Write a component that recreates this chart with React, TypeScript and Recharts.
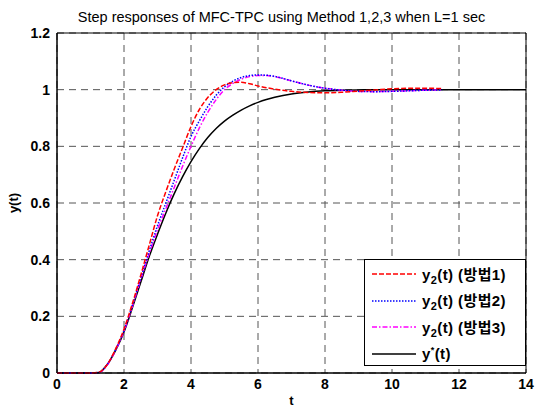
import {
  Line,
  LineChart,
  CartesianGrid,
  ReferenceArea,
  XAxis,
  YAxis,
} from "recharts";

// step response samples
const tValues = [
  0, 0.5, 1, 1.25, 1.5, 1.75, 2, 2.25, 2.5, 2.75, 3, 3.25, 3.5, 3.75, 4, 4.25, 4.5, 4.75, 5, 5.25,
  5.5, 5.75, 6, 6.25, 6.5, 7, 7.5, 8, 8.5, 9, 9.5, 10, 10.5, 11, 11.5, 12, 13, 14,
];
const refValues = [
  0, 0, 0, 0.002, 0.03, 0.08, 0.145, 0.23, 0.32, 0.41, 0.49, 0.565, 0.633, 0.693, 0.746, 0.792, 0.831, 0.863, 0.889, 0.91,
  0.928, 0.943, 0.955, 0.965, 0.973, 0.985, 0.992, 0.996, 0.998, 0.999, 1, 1, 1, 1, 1, 1, 1, 1,
];
const method1 = [
  0, 0, 0, 0.003, 0.03, 0.085, 0.155, 0.245, 0.345, 0.45, 0.555, 0.64, 0.72, 0.795, 0.87, 0.93, 0.972, 1.0, 1.017, 1.025,
  1.026, 1.021, 1.013, 1.007, 1.002, 0.994, 0.99, 0.989, 0.991, 0.995, 0.999, 1.003, 1.005, 1.005, 1.004, null, null, null,
];
const method2 = [
  0, 0, 0, 0.002, 0.03, 0.083, 0.15, 0.24, 0.335, 0.43, 0.52, 0.6, 0.68, 0.76, 0.835, 0.89, 0.94, 0.98, 1.01, 1.03,
  1.043, 1.05, 1.052, 1.051, 1.047, 1.031, 1.016, 1.005, 0.998, 0.994, 0.993, 0.994, 0.996, 0.998, 0.999, null, null, null,
];
const method3 = [
  0, 0, 0, 0.002, 0.028, 0.08, 0.148, 0.235, 0.33, 0.42, 0.505, 0.58, 0.655, 0.73, 0.8, 0.865, 0.92, 0.965, 1.0, 1.022,
  1.037, 1.046, 1.05, 1.05, 1.046, 1.031, 1.016, 1.005, 0.998, 0.994, 0.993, 0.994, 0.996, 0.998, 0.999, null, null, null,
];

const xTicks = [0, 2, 4, 6, 8, 10, 12, 14];
const yTicks = [0, 0.2, 0.4, 0.6, 0.8, 1, 1.2];

const data = tValues.map((t, i) => ({
  t,
  m1: method1[i],
  m2: method2[i],
  m3: method3[i],
  ref: refValues[i],
}));

const FONT = '"Liberation Sans", Arial, "Noto Sans CJK KR", sans-serif';

const legendRows = [
  { label: "방법1", color: "#ff0000", dash: "5 2", star: false },
  { label: "방법2", color: "#0000ff", dash: "1.5 1.5", star: false },
  { label: "방법3", color: "#ff00ff", dash: "5 2 1.5 2", star: false },
  { label: "", color: "#000000", dash: undefined, star: true },
];

function LegendBox() {
  return (
    <div
      style={{
        position: "absolute",
        left: 364,
        top: 259,
        width: 162,
        height: 107,
        border: "1px solid #000",
        background: "#fff",
        fontFamily: FONT,
        fontWeight: "bold",
        fontSize: 15,
        letterSpacing: 0.4,
        boxSizing: "border-box",
        paddingTop: 1,
      }}
    >
      {legendRows.map((r, i) => (
        <div key={i} style={{ display: "flex", alignItems: "center", height: 26.5, paddingLeft: 7, whiteSpace: "nowrap" }}>
          <svg width={44} height={10} style={{ marginRight: 6, flexShrink: 0 }}>
            <line x1={0} y1={5} x2={44} y2={5} stroke={r.color} strokeWidth={1.5} strokeDasharray={r.dash} />
          </svg>
          {r.star ? (
            <span>
              y<sup style={{ fontSize: 9 }}>*</sup>(t)
            </span>
          ) : (
            <span>
              y<sub style={{ fontSize: 11 }}>2</sub>(t) ({r.label})
            </span>
          )}
        </div>
      ))}
    </div>
  );
}

export default function App() {
  return (
    <div style={{ position: "absolute", left: 0, top: 0, width: 538, height: 407, background: "#fff" }}>
      <div
        style={{
          position: "absolute",
          left: 31,
          width: 501,
          top: 9,
          textAlign: "center",
          fontFamily: FONT,
          fontSize: 14.5,
          color: "#000",
        }}
      >
        Step responses of MFC-TPC using Method 1,2,3 when L=1 sec
      </div>
      <LineChart width={538} height={407} data={data} margin={{ top: 33, right: 12, bottom: 0, left: 0 }}>
        <CartesianGrid stroke="#555" strokeDasharray="7 5" strokeWidth={1} />
        <XAxis
          dataKey="t"
          type="number"
          domain={[0, 14]}
          ticks={xTicks}
          tickLine={false}
          tickSize={4}
          tickMargin={2}
          height={34}
          axisLine={{ stroke: "#000" }}
          tick={{ fontSize: 14, fontWeight: "bold", fill: "#000", fontFamily: FONT }}
          label={{ value: "t", position: "insideBottom", offset: 2, fontSize: 13, fontWeight: "bold", fill: "#000", fontFamily: FONT }}
        />
        <YAxis
          type="number"
          domain={[0, 1.2]}
          ticks={yTicks}
          width={57}
          tickLine={false}
          tickSize={5}
          tickMargin={2}
          axisLine={{ stroke: "#000" }}
          tickFormatter={(v: number) => String(Number(v.toFixed(1)))}
          tick={{ fontSize: 14, fontWeight: "bold", fill: "#000", fontFamily: FONT }}
          label={{
            content: ({ viewBox }: any) => {
              const x = viewBox.x + 13;
              const y = viewBox.y + viewBox.height / 2;
              return (
                <text
                  x={x}
                  y={y}
                  transform={`rotate(-90 ${x} ${y})`}
                  textAnchor="middle"
                  dominantBaseline="central"
                  fontSize={13}
                  fontWeight="bold"
                  fontFamily={FONT}
                  fill="#000"
                >
                  y(t)
                </text>
              );
            },
          }}
        />
        <ReferenceArea x1={0} x2={14} y1={0} y2={1.2} fill="none" stroke="#000" strokeWidth={1} ifOverflow="visible" />
        <Line type="monotone" dataKey="ref" stroke="#000" strokeWidth={1.5} dot={false} isAnimationActive={false} />
        <Line type="monotone" dataKey="m3" stroke="#ff00ff" strokeWidth={1.5} strokeDasharray="5 2 1.5 2" dot={false} isAnimationActive={false} />
        <Line type="monotone" dataKey="m2" stroke="#0000ff" strokeWidth={1.5} strokeDasharray="1.5 1.5" dot={false} isAnimationActive={false} />
        <Line type="monotone" dataKey="m1" stroke="#ff0000" strokeWidth={1.5} strokeDasharray="5 2" dot={false} isAnimationActive={false} />
      </LineChart>
      <LegendBox />
    </div>
  );
}
